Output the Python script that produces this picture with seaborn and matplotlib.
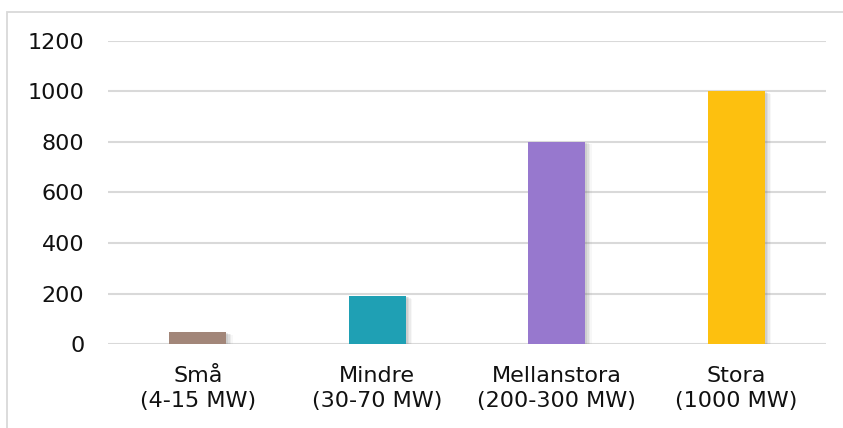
import matplotlib
matplotlib.use("Agg")
import matplotlib.pyplot as plt
import matplotlib.patheffects as pe
from matplotlib.patches import Rectangle
import seaborn as sns
import pandas as pd

categories = ["Små\n(4-15 MW)", "Mindre\n(30-70 MW)", "Mellanstora\n(200-300 MW)", "Stora\n(1000 MW)"]
values = [47, 190, 800, 1000]
colors = ["#A28679", "#1FA0B4", "#9778CE", "#FDC00F"]
y_ticks = [0, 200, 400, 600, 800, 1000, 1200]

sns.set_theme(style="white")
plt.rcParams["font.family"] = ["DejaVu Sans"]

df = pd.DataFrame({"kategori": categories, "värde": values})

fig = plt.figure(figsize=(8.43, 4.28), dpi=100)
ax = fig.add_axes([108 / 843, 1 - 344 / 428, (826 - 108) / 843, (344 - 41) / 428])

sns.barplot(data=df, x="kategori", y="värde", hue="kategori", palette=colors,
            width=0.318, legend=False, ax=ax, saturation=1, zorder=3)

# soft drop shadow on the right side of each bar
shadow = [pe.SimplePatchShadow(offset=(d, -d * 0.4), shadow_rgbFace="#7a7a7a", alpha=a)
          for d, a in [(4.5, 0.06), (3.5, 0.09), (2.5, 0.12), (1.5, 0.15)]]
for bar in ax.patches:
    bar.set_path_effects(shadow + [pe.Normal()])
    bar.set_linewidth(0)

ax.set_ylim(0, 1200)
ax.set_yticks(y_ticks)
ax.set_yticklabels([str(t) for t in y_ticks], fontsize=16, color="#111111")
ax.tick_params(axis="x", labelsize=16, colors="#111111", pad=16, length=0)
ax.tick_params(axis="y", pad=17, length=0)
for lbl in ax.get_xticklabels():
    lbl.set_linespacing(1.3)
ax.set_xlabel("")
ax.set_ylabel("")
ax.grid(axis="y", color="#D9D9D9", linewidth=1.5, zorder=0)
ax.set_axisbelow(True)
for s in ax.spines.values():
    s.set_visible(False)

# Outer chart border
fig.patches.append(Rectangle((7 / 843, -0.01), 2, 1 - 12 / 428 + 0.01,
                             transform=fig.transFigure, fill=False,
                             edgecolor="#D9D9D9", linewidth=1.3))

fig.savefig("out.png", dpi=100)
